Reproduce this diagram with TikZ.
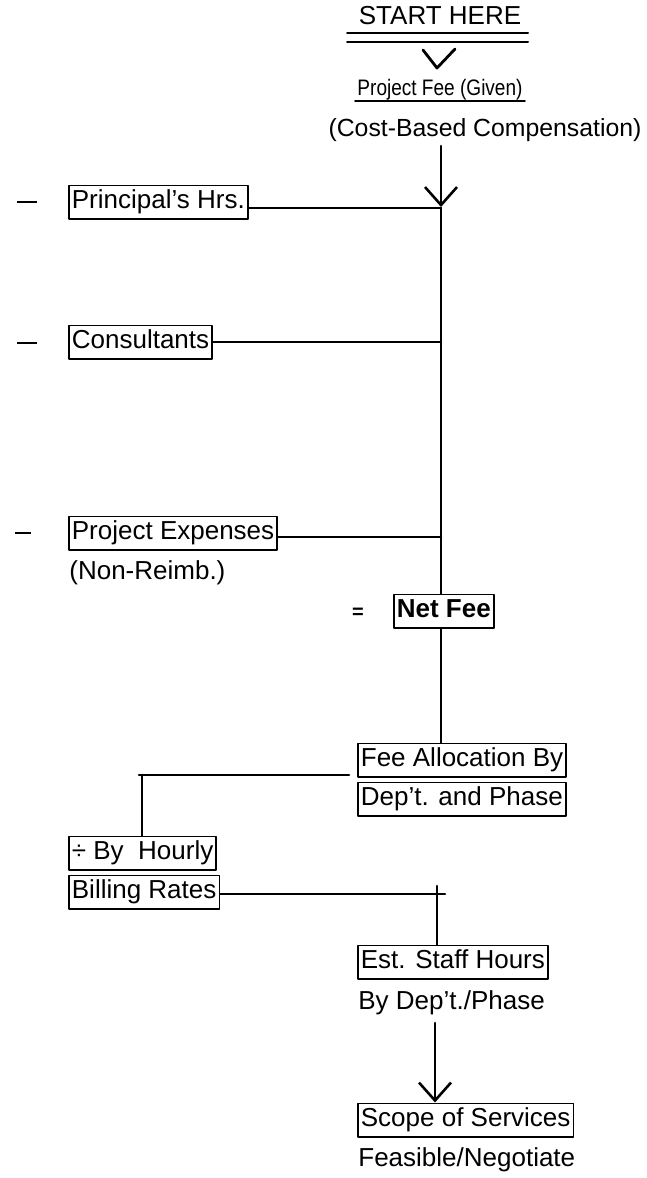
\documentclass[tikz,border=0pt]{standalone}
\usepackage{fontspec}
\setmainfont{Liberation Sans}
\usetikzlibrary{calc,arrows.meta}

\begin{document}
\begin{tikzpicture}[x=0.5pt, y=-0.5pt, line join=round, line cap=round,
    font=\fontsize{13}{15}\selectfont,
    box/.style={draw, line width=0.9pt, anchor=west, inner xsep=1.5pt, inner ysep=2pt, text height=9.6pt, text depth=3pt},
    txt/.style={anchor=west, inner sep=1pt, text height=9.6pt, text depth=3pt},
    minus/.style={inner sep=0pt},
    link/.style={line width=1.3pt},
    tip/.style={link, -{Straight Barb[length=9pt, width=16pt, line width=1.3pt]}}]
    \useasboundingbox (0,0) rectangle (647,1178);

    % Start
    \node[inner sep=1pt] (start) at (440,16) {START HERE};
    \draw[line width=1pt] (347,33) -- (528,33);
    \draw[line width=1pt] (347,42) -- (528,42);
    \draw[line width=1.4pt] (423,50) -- (437,68) -- (455,49);
    \node[inner sep=1pt, font=\fontsize{11.2}{13}\selectfont] (fee) at (440,90) {\scalebox{0.85}[1]{Project Fee (Given)}};
    \draw[line width=0.9pt] (fee.south west) ++(0,-2) -- ($(fee.south east)+(0,-2)$);
    \node[inner sep=1pt, font=\fontsize{12.4}{14}\selectfont] (cost) at (485,130) {(Cost-Based Compensation)};

    % Deductions
    \coordinate (top) at (441,146);
    \node[minus] at (27,202) {\rule{10pt}{1.4pt}};
    \node[box] (princ) at (68,202) {Principal's Hrs.};
    \node[minus] at (27,343) {\rule{10pt}{1.4pt}};
    \node[box] (cons) at (68,342) {Consultants};
    \node[minus] at (23,533) {\rule{8pt}{1.4pt}};
    \node[box] (exp) at (68,533) {Project Expenses};
    \node[txt] (nonr) at (67,573) {(Non-Reimb.)};
    \node[font=\bfseries] at (358,613) {=};
    \node[box, font=\fontsize{13}{15}\selectfont\bfseries] (net) at (393,611) {Net Fee};

    \coordinate (p1) at (441,208);
    \draw[tip] (top) -- ($(p1)+(0,-1)$);
    \draw[link] (p1) -- (p1 |- net.north);
    \draw[link] (princ.east |- p1) -- (p1);
    \draw[link] (cons.east) -- (cons.east -| top);
    \draw[link] ([yshift=-2pt]exp.east) -- ([yshift=-2pt]exp.east -| top);

    % Allocation
    \node[box] (alloc) at (357,760) {Fee Allocation By};
    \node[box] (dept) at (357,799) {Dep't. and Phase};
    \draw[link] (net.south -| top) -- (alloc.north -| top);

    \coordinate (c1) at (142,775);
    \node[box] (hourly) at (68,853) {÷ By\ \ Hourly};
    \node[box] (bill) at (68,892) {Billing Rates};
    \draw[link] ($(c1)+(-3,0)$) -- ([xshift=-4pt]c1 -| alloc.west);
    \draw[link] (c1) -- (c1 |- hourly.north);

    % Staff hours
    \node[box] (staff) at (357,962) {Est. Staff Hours};
    \node[txt] (bydept) at (356,1003) {By Dep't./Phase};
    \coordinate (c2) at (437,894);
    \draw[link] ([yshift=-1pt]bill.east) -- ($(c2)+(8,0)$);
    \draw[link] ($(c2)+(0,-8)$) -- (c2 |- staff.north);

    % Scope
    \node[box] (scope) at (357,1120) {Scope of Services};
    \node[txt] (feas) at (356,1160) {Feasible/Negotiate};
    \draw[tip] (435,1023) -- (scope.north -| 435,0);
\end{tikzpicture}
\end{document}
